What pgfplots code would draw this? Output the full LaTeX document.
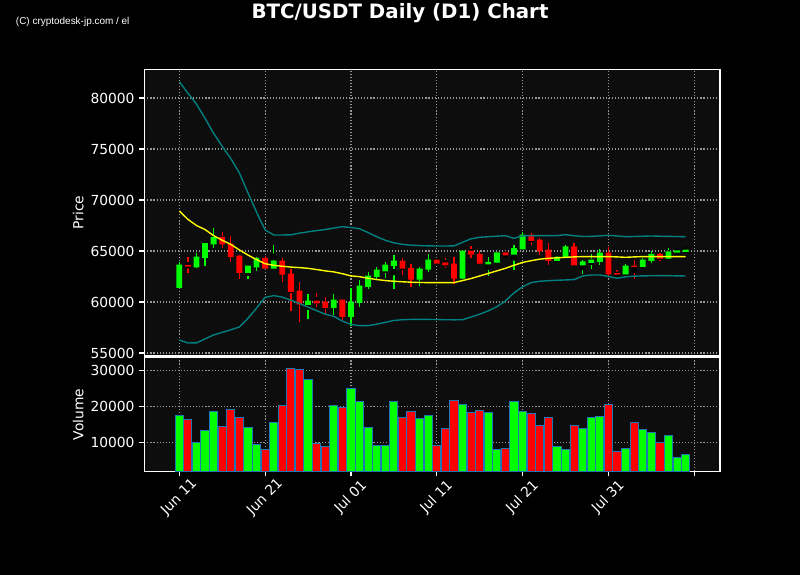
\documentclass[border=0pt]{standalone}
\usepackage{pgfplots}
\pgfplotsset{compat=1.18}
\usepackage{pgfplotstable}
\usepackage{fontspec}
\setmainfont{DejaVu Sans}
\newfontfamily\wmfont{Liberation Sans}
\definecolor{face}{RGB}{13,13,13}
\definecolor{cup}{RGB}{0,255,0}
\definecolor{cdn}{RGB}{255,0,0}
\definecolor{band}{RGB}{0,128,128}
\definecolor{midc}{RGB}{255,255,0}
\definecolor{edge}{RGB}{31,119,180}
\definecolor{gridc}{RGB}{150,150,150}

% daily open, high, low, close, volume (day 0 = Jun 11)
\pgfplotstableread{
i o h l c v
0 61402 63892 61402 63627 17500
1 63600 64381 62813 63500 16389
2 63432 64774 63350 64413 10000
3 64343 65752 63560 65752 13333
4 65686 67225 65327 66343 18611
5 66343 66900 65327 65686 14537
6 65686 66471 63950 64444 19167
7 64510 64600 62255 62875 16944
8 62875 63529 62222 63529 14167
9 63432 64381 63071 64284 9444
10 64284 64540 63300 63300 8056
11 63300 65588 63300 64020 15556
12 64020 64284 61925 62712 20278
13 62745 63235 59118 61013 30555
14 61078 61925 58071 59774 30278
15 59741 60750 58333 60098 27500
16 60098 60850 59470 59900 9722
17 60000 60458 58824 59441 8981
18 59441 60752 58725 60196 20278
19 60196 60196 58235 58562 19722
20 58562 61340 57676 59970 25000
21 59930 62157 59480 61568 21389
22 61500 62910 61245 62549 14167
23 62484 63400 62157 63137 9167
24 63039 63955 62386 63627 9167
25 63560 64600 61245 64020 21389
26 64020 64284 62647 63300 16944
27 63300 63693 61500 62222 18611
28 62222 63463 61600 63235 16667
29 63202 64676 62911 64117 17500
30 64117 64344 63693 63790 9167
31 63863 64284 63300 63627 13889
32 63725 64380 61730 62320 21667
33 62320 65000 62222 65000 20555
34 65000 65520 64284 64676 18333
35 64676 65000 63693 63790 18889
36 63725 64380 62580 63900 18333
37 63900 64840 63790 64840 7963
38 64840 65000 64280 64610 8333
39 64676 65588 63137 65261 21389
40 65196 66900 65196 66569 18611
41 66569 66733 65588 66013 18055
42 66078 66242 64610 65000 14722
43 65098 65752 63627 64050 16944
44 64050 64510 63790 64380 8889
45 64344 65588 64284 65425 7963
46 65425 65752 63627 63627 14722
47 63627 64117 62714 63955 13889
48 63863 64676 63202 64117 16944
49 63961 65163 63600 64800 17222
50 64800 65360 62550 62745 20555
51 62810 63137 62222 62712 7500
52 62745 63693 62745 63529 8333
53 63529 64117 62222 63463 15556
54 63463 64284 63400 64117 13611
55 64050 65000 63863 64676 12778
56 64676 64774 64020 64284 10000
57 64284 65327 64190 64935 11944
58 64870 65196 64774 65030 5833
59 64935 65360 64774 65098 6667
}\ohlc

% Bollinger bands: middle, upper, lower
\pgfplotstableread{
i mid up lo
0 68920 81600 56270
1 68100 80470 55980
2 67500 79400 55990
3 67100 78000 56380
4 66500 76530 56770
5 66050 75250 57020
6 65650 74070 57270
7 65100 72650 57550
8 64600 70700 58400
9 64150 68800 59400
10 63750 67060 60460
11 63600 66570 60620
12 63500 66570 60480
13 63420 66580 60170
14 63370 66750 59850
15 63300 66880 59500
16 63180 67000 59150
17 63050 67100 58800
18 62950 67250 58590
19 62770 67380 58120
20 62560 67300 57800
21 62480 67180 57680
22 62330 66800 57680
23 62200 66400 57820
24 62100 66050 58000
25 62030 65800 58190
26 61980 65650 58260
27 61940 65570 58290
28 61910 65530 58300
29 61900 65500 58290
30 61900 65490 58280
31 61900 65490 58260
32 61900 65500 58250
33 62100 65850 58260
34 62300 66200 58530
35 62550 66340 58800
36 62800 66400 59130
37 63050 66450 59540
38 63300 66500 60100
39 63600 66240 60900
40 63880 66480 61500
41 64050 66500 61900
42 64200 66500 62030
43 64280 66500 62090
44 64330 66500 62130
45 64380 66600 62160
46 64420 66500 62200
47 64450 66420 62550
48 64450 66430 62650
49 64450 66480 62650
50 64450 66540 62500
51 64420 66470 62330
52 64380 66400 62470
53 64420 66420 62530
54 64450 66450 62560
55 64450 66470 62570
56 64450 66450 62580
57 64450 66430 62580
58 64450 66420 62560
59 64450 66400 62550
}\bands

\pgfplotsset{
  panel/.style={
    scale only axis, anchor=south west,
    width=414.5bp,
    xmin=-4.08, xmax=63.0,
    axis background/.style={fill=face},
    axis line style={white, line width=0.8bp},
    tick style={white, line width=0.8bp},
    major tick length=3.5bp,
    tick align=outside, tick pos=left,
    grid=major,
    major grid style={gridc, line width=0.8bp, dash pattern=on 0.8bp off 1.4bp},
    tick label style={white, font=\fontsize{10}{12}\selectfont},
    /pgf/number format/assume math mode=true,
    scaled y ticks=false,
    yticklabel style={/pgf/number format/fixed, /pgf/number format/1000 sep={}},
    every axis y label/.style={at={(axis description cs:-0.115,0.5)}, rotate=90, anchor=center, white, font=\fontsize{10}{12}\selectfont},
    xtick={0,10,20,30,40,50,60},
  },
  overlay/.style={
    scale only axis, anchor=south west, hide axis,
    width=414.5bp, height=206.4bp,
    xmin=-4.08, xmax=63.0, ymin=54706, ymax=82814,
  }
}

\begin{document}
\begin{tikzpicture}
\fill[black] (0,0) rectangle (576bp,414bp);
\path[use as bounding box] (0,0) rectangle (576bp,414bp);

% price panel: frame, grid, wicks
\begin{axis}[panel, at={(103.9bp,157.7bp)}, height=206.4bp,
  ymin=54706, ymax=82814,
  ytick={55000,60000,65000,70000,75000,80000},
  xticklabels={}, x tick style={draw=none},
  ylabel={Price}]
\addplot[only marks, mark=none, forget plot, error bars/.cd, y dir=both, y explicit, error mark=none,
  error bar style={draw=cup, line width=0.9bp}]
  table[x=i, y expr={(\thisrow{h}+\thisrow{l})/2}, y error expr={(\thisrow{c}>\thisrow{o})*(\thisrow{h}-\thisrow{l})/2}] {\ohlc};
\addplot[only marks, mark=none, forget plot, error bars/.cd, y dir=both, y explicit, error mark=none,
  error bar style={draw=cdn, line width=0.9bp}]
  table[x=i, y expr={(\thisrow{h}+\thisrow{l})/2}, y error expr={(\thisrow{c}<\thisrow{o})*(\thisrow{h}-\thisrow{l})/2}] {\ohlc};
\end{axis}

% candle bodies: stacked bars on an invisible base
\begin{axis}[overlay, at={(103.9bp,157.7bp)}, ybar stacked, bar width=0.68]
\addplot[draw=none, fill=none] table[x=i, y expr={min(\thisrow{o},\thisrow{c})-30}] {\ohlc};
\addplot[draw=none, fill=cup] table[x=i, y expr={(\thisrow{c}>\thisrow{o})*(abs(\thisrow{c}-\thisrow{o})+60)}] {\ohlc};
\addplot[draw=none, fill=cdn] table[x=i, y expr={(\thisrow{c}<\thisrow{o})*(abs(\thisrow{c}-\thisrow{o})+60)}] {\ohlc};
\end{axis}

% Bollinger bands
\begin{axis}[overlay, at={(103.9bp,157.7bp)}]
\addplot[band, line width=1bp, mark=none] table[x=i, y=up] {\bands};
\addplot[band, line width=1bp, mark=none] table[x=i, y=lo] {\bands};
\addplot[midc, line width=1bp, mark=none] table[x=i, y=mid] {\bands};
\end{axis}

% volume panel
\begin{axis}[panel, at={(103.9bp,74.5bp)}, height=82.4bp,
  ymin=1886, ymax=33695,
  ytick={10000,20000,30000},
  xticklabels={Jun 11,Jun 21,Jul 01,Jul 11,Jul 21,Jul 31,{}},
  xticklabel style={rotate=45, anchor=center},
  xticklabel shift=15bp,
  ylabel={Volume}]
\addplot[ybar, bar width=0.95, bar shift=0pt, fill=cup, draw=edge, line width=0.72bp]
  table[x=i, y expr={(\thisrow{c}>\thisrow{o})*\thisrow{v}}] {\ohlc};
\addplot[ybar, bar width=0.95, bar shift=0pt, fill=cdn, draw=edge, line width=0.72bp]
  table[x=i, y expr={(\thisrow{c}<\thisrow{o})*\thisrow{v}}] {\ohlc};
\end{axis}

\node[anchor=base, white, font=\bfseries\fontsize{14.3}{16}\selectfont] at (288bp,401bp) {BTC/USDT Daily (D1) Chart};
\node[anchor=base west, white, inner sep=0pt, font=\wmfont\fontsize{7.2}{8}\selectfont] at (11.3bp,396.7bp) {(C) cryptodesk-jp.com / el};
\end{tikzpicture}
\end{document}
